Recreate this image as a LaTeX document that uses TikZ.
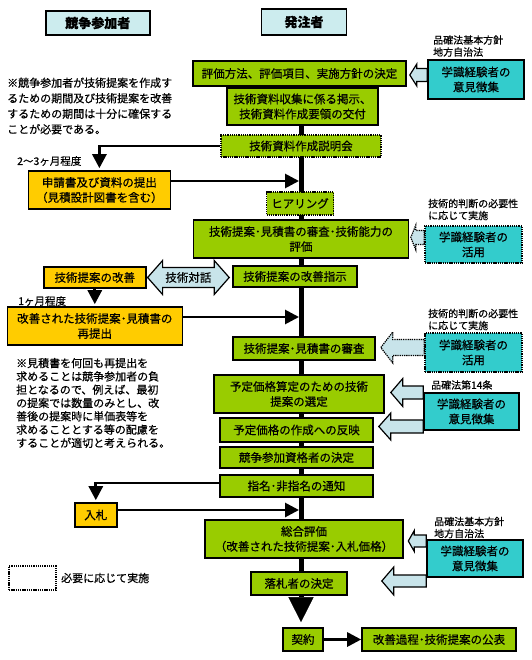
\documentclass[tikz,border=0pt]{standalone}
\usepackage{fontspec}
\setmainfont{Noto Sans CJK JP}[FakeBold=0.6]
\usetikzlibrary{arrows.meta, calc, backgrounds}
\tikzset{>={Triangle[width=14pt,length=14pt]}}
\definecolor{kgreen}{RGB}{153,204,0}
\definecolor{korange}{RGB}{255,204,0}
\definecolor{kcyan}{RGB}{51,204,204}
\definecolor{khead}{RGB}{204,236,238}
\definecolor{karrow}{RGB}{200,228,234}
% block arrow pointing left: tail, tip, head half, shaft half, head length
\newcommand\blkarrow[6][]{%
  \draw[blk,#1] let \p1=#2, \p2=#3 in
    (\x1,\y2+#5) -- (\x2+#6,\y2+#5) -- (\x2+#6,\y2+#4) -- (\x2,\y2)
    -- (\x2+#6,\y2-#4) -- (\x2+#6,\y2-#5) -- (\x1,\y2-#5) -- cycle;}

\begin{document}
\begin{tikzpicture}[x=1pt, y=-1pt, font=\fontsize{11.5}{15}\selectfont,
  sz/.style 2 args={minimum width=#1pt, minimum height=#2pt},
  box/.style={draw, line width=1.6pt, inner sep=1pt, align=center},
  gbox/.style={box, fill=kgreen},
  obox/.style={box, fill=korange},
  cbox/.style={box, fill=kcyan},
  hbox/.style={box, fill=khead, font=\fontsize{13}{15}\selectfont\bfseries},
  opt/.style={dash pattern=on 1.3pt off 0.9pt},
  axis/.style={line width=5pt},
  link/.style={line width=2.8pt, ->, shorten >=2pt},
  blk/.style={line width=1.2pt, fill=karrow},
  small/.style={anchor=west, inner sep=0pt, align=left, font=\fontsize{10}{12}\selectfont},
  note/.style={anchor=west, inner sep=0pt, align=left, font=\fontsize{11}{15.5}\selectfont}]
\useasboundingbox (0,0) rectangle (531,660);

\node (hA) [hbox, sz={104}{24}] at (97.8,23) {競争参加者};
\node (hB) [hbox, sz={85}{26}] at (304,22) {発注者};

\node (d1) [gbox, sz={213}{25}] at (299.5,73.5) {評価方法、評価項目、実施方針の決定};
\node (d2) [gbox, sz={151}{37}] at (302.5,106.5) {技術資料収集に係る掲示、\\技術資料作成要領の交付};
\node (d3) [gbox, opt, sz={160}{22}] at (301,146) {技術資料作成説明会};
\node (d4) [gbox, opt, sz={67}{23}] at (300,203.5) {ヒアリング};
\node (d5) [gbox, sz={215}{38}] at (301,239) {技術提案･見積書の審査･技術能力の\\評価};
\node (d6) [gbox, sz={124}{21}] at (295,276.5) {技術提案の改善指示};
\node (d7) [gbox, sz={142}{23}] at (304,348.5) {技術提案･見積書の審査};
\node (d8) [gbox, sz={170}{38}] at (299,394) {予定価格算定のための技術\\提案の選定};
\node (d9) [gbox, sz={153}{24}] at (296.5,430) {予定価格の作成への反映};
\node (d10) [gbox, sz={153}{21}] at (296.5,457.5) {競争参加資格者の決定};
\node (d11) [gbox, sz={153}{22}] at (296.5,486) {指名･非指名の通知};
\node (d12) [gbox, sz={198}{38}] at (304,539) {総合評価\\（改善された技術提案･入札価格）};
\node (d13) [gbox, sz={96}{23}] at (299,583.5) {落札者の決定};
\node (d14) [gbox, sz={40}{23}] at (303,639.5) {契約};
\node (d15) [gbox, sz={154}{23}] at (439,639.5) {改善過程･技術提案の公表};

\node (p1) [obox, sz={142}{38}] at (99.4,190) {申請書及び資料の提出\\（見積設計図書を含む）};
\node (p2) [obox, sz={102}{21}] at (94.8,277.5) {技術提案の改善};
\node (p3) [obox, sz={175}{38}] at (94.8,326) {改善された技術提案･見積書の\\再提出};
\node (p4) [obox, sz={42}{24}] at (95.8,515) {入札};

\node (e1) [cbox, sz={96}{39}] at (476,79.5) {学識経験者の\\意見徴集};
\node (e2) [cbox, opt, sz={97}{37}] at (473.5,244.5) {学識経験者の\\活用};
\node (e3) [cbox, opt, sz={97}{39}] at (473.5,352.5) {学識経験者の\\活用};
\node (e4) [cbox, sz={95}{37}] at (471.5,411.5) {学識経験者の\\意見徴集};
\node (e5) [cbox, sz={96}{37}] at (475,558.5) {学識経験者の\\意見徴集};

\node (s1) [small] at (433,46) {品確法基本方針\\地方自治法};
\node (s2) [small] at (428,209.5) {技術的判断の必要性\\に応じて実施};
\node (s3) [small] at (428,319.5) {技術的判断の必要性\\に応じて実施};
\node (s4) [small] at (431,385) {品確法第14条};
\node (s5) [small] at (434,527.5) {品確法基本方針\\地方自治法};

\node (n1) [note] at (7,106) {※競争参加者が技術提案を作成す\\るための期間及び技術提案を改善\\するための期間は十分に確保する\\ことが必要である。};
\node (n2) [note, font=\fontsize{11}{13.3}\selectfont] at (16,403) {※見積書を何回も再提出を\\求めることは競争参加者の負\\担となるので、例えば、最初\\の提案では数量のみとし、改\\善後の提案時に単価表等を\\求めることとする等の配慮を\\することが適切と考えられる。};
\node (t1) [small, font=\fontsize{10.5}{12}\selectfont] at (17,161) {2〜3ヶ月程度};
\node (t2) [small, font=\fontsize{10.5}{12}\selectfont] at (18,301) {1ヶ月程度};

\node (lg) [box, opt, fill=white, sz={47}{24}] at (32.5,578) {};
\node (lgt) [small, font=\fontsize{11}{13}\selectfont] at (61,578) {必要に応じて実施};

\begin{scope}[on background layer]
\draw[axis] (d3 |- d1.south) -- (d3 |- d13.north);
\draw[axis, -{Triangle[width=25pt,length=25pt,line width=0.5pt]}, shorten >=5pt] (d3 |- d13.south) -- (d3 |- d14.north);
\draw[link] (d3.west) -| (p1.north);
\draw[link] ([yshift=9pt]p1.east) -- ([yshift=9pt]p1.east -| d3);
\draw[link] (p2.south) -- (p3.north);
\draw[link] ([yshift=9pt]p3.east) -- ([yshift=9pt]p3.east -| d3);
\draw[link] ([yshift=3pt]d11.west) -| (p4.north);
\draw[link] ([yshift=5pt]p4.east) -- ([yshift=5pt]p4.east -| d3);
\draw[link, shorten >=0pt] (d14.east) -- (d15.west);
\end{scope}

\blkarrow{(e1.west)}{([xshift=3pt,yshift=-1.5pt]d1.east)}{11}{6.5}{7}
\blkarrow[opt]{(e2.west)}{([xshift=1.5pt,yshift=1.5pt]d5.east)}{12.5}{7}{5}
\blkarrow[opt]{(e3.west)}{([xshift=5pt,yshift=1pt]d7.east)}{15.5}{8}{12}
\blkarrow{(e4.west)}{([xshift=6pt,yshift=1.5pt]d8.east)}{14}{6.5}{12}
\blkarrow{(e4.west)}{([xshift=5pt,yshift=3.5pt]d9.east)}{13.5}{6.5}{12}
\blkarrow{(e5.west)}{([xshift=4.5pt,yshift=-2pt]d12.east)}{10.5}{6}{6}
\blkarrow{(e5.west)}{([xshift=34pt,yshift=2.5pt]d13.east)}{14}{6}{12}

\draw[blk] let \p1=([xshift=1pt]p2.east), \p2=([xshift=-3pt]d6.west) in
  (\x1,\y1) -- (\x1+15,\y1+17) -- (\x1+15,\y1+10) -- (\x2-15,\y1+10)
  -- (\x2-15,\y1+17) -- (\x2,\y1) -- (\x2-15,\y1-17) -- (\x2-15,\y1-10)
  -- (\x1+15,\y1-10) -- (\x1+15,\y1-17) -- cycle
  (\x1/2+\x2/2,\y1) node (tk) {技術対話};
\end{tikzpicture}
\end{document}
